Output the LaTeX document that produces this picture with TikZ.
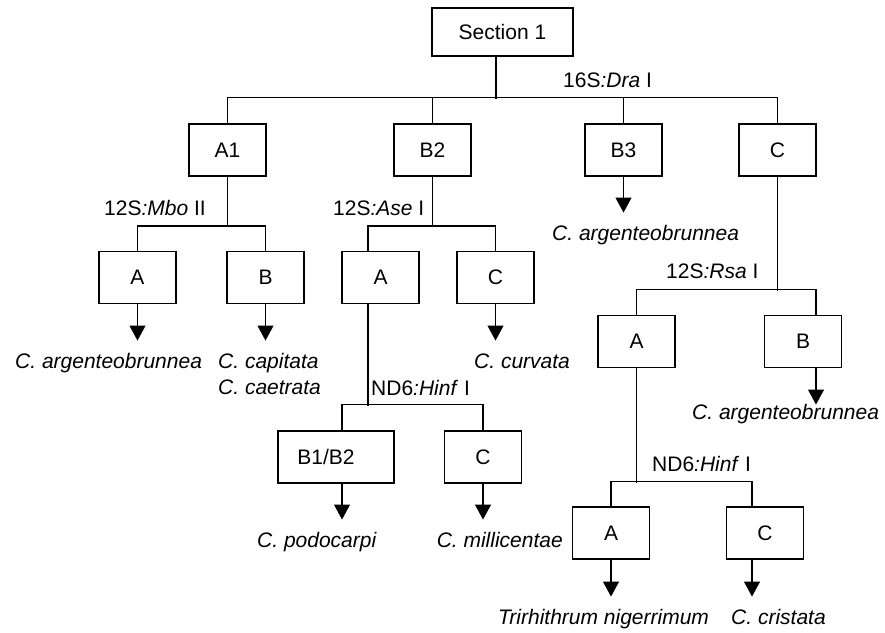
\documentclass[tikz,border=0pt]{standalone}
\usepackage{fontspec}
\setmainfont{Liberation Sans}
\usetikzlibrary{arrows.meta}
\begin{document}
\begin{tikzpicture}[x=1pt,y=-1pt,
  every node/.style={font=\fontsize{21}{26}\selectfont},
  box/.style={draw, line width=1.1pt, minimum width=77pt, minimum height=52pt, inner sep=0pt},
  conn/.style={line width=1.1pt},
  arr/.style={line width=1.1pt, -{Triangle[width=16pt,length=15pt]}},
  lab/.style={anchor=base west, inner sep=0pt},
  sp/.style={anchor=base west, inner sep=0pt, font=\fontsize{21}{26}\selectfont\itshape}]
\useasboundingbox (0,0) rectangle (885,632);
% boxes
\node[box, minimum width=141pt, minimum height=48pt] (sec) at (502.5,32) {Section 1};
\node[box] (A1) at (227.5,150) {A1};
\node[box] (B2) at (432.5,150) {B2};
\node[box] (B3) at (623.5,150) {B3};
\node[box] (C) at (777.5,150) {C};
\node[box] (A1a) at (137.5,277.5) {A};
\node[box] (A1b) at (265.5,277.5) {B};
\node[box] (B2a) at (380.5,277.5) {A};
\node[box] (B2c) at (495.5,277.5) {C};
\node[box, minimum width=116pt] (B12) at (336,457) {\hspace*{-20pt}B1/B2};
\node[box] (B2ac) at (483,457) {C};
\node[box] (Ca) at (636.5,341.5) {A};
\node[box] (Cb) at (803,341.5) {B};
\node[box] (CaA) at (611,533) {A};
\node[box] (CaC) at (765,533) {C};
% enzyme labels
\node[lab] (l16) at (563,87) {16S\textit{:Dra} I};
\node[lab] (l12a) at (104,215) {12S\textit{:Mbo} II};
\node[lab] (l12b) at (333,215) {12S\textit{:Ase} I};
\node[lab] (lnd1) at (371,395) {ND6\textit{:Hinf} I};
\node[lab] (l12c) at (666,278) {12S\textit{:Rsa} I};
\node[lab] (lnd2) at (652,471) {ND6\textit{:Hinf} I};
% species
\node[sp] (s1) at (15,368) {C. argenteobrunnea};
\node[sp] (s2) at (218,368) {C. capitata};
\node[sp] (s2b) at (218,394) {C. caetrata};
\node[sp] (s3) at (474,368) {C. curvata};
\node[sp] (s4) at (257,547) {C. podocarpi};
\node[sp, anchor=base east] (s5) at (563,547) {C. millicentae};
\node[sp] (s6) at (552,240) {C. argenteobrunnea};
\node[sp] (s7) at (692,419) {C. argenteobrunnea};
\node[sp] (s8) at (498,624) {Trirhithrum nigerrimum};
\node[sp] (s9) at (731,624) {C. cristata};
% tree connectors
\draw[conn] ([xshift=-6.5pt]sec.south) -- ++(0,42) coordinate (j0);
\draw[conn] (A1.north) -- ++(0,-26) -| (C.north);
\draw[conn] (B2.north) -- ++(0,-26);
\draw[conn] (B3.north) -- ++(0,-26);
\draw[conn] (A1.south) -- ++(0,50);
\draw[conn] (A1a.north) -- ++(0,-25) -| (A1b.north);
\draw[conn] (B2.south) -- ++(0,50);
\draw[conn] ([xshift=-12.5pt]B2a.north) -- ++(0,-25) -| (B2c.north);
\draw[conn] ([xshift=-12.5pt]B2a.south) -- ++(0,101.5);
\draw[conn] ([xshift=6pt]B12.north) -- ++(0,-26) -| (B2ac.north);
\draw[conn] (C.south) -- ++(0,114);
\draw[conn] (Ca.north) -- ++(0,-25.5) -| ([xshift=13pt]Cb.north);
\draw[conn] (Ca.south) -- ++(0,114.5);
\draw[conn] (CaA.north) -- ++(0,-25) -| ([xshift=-13pt]CaC.north);
% arrows
\draw[arr] (A1a.south) -- ++(0,36.5) coordinate (t1);
\draw[arr] (A1b.south) -- ++(0,36.5) coordinate (t2);
\draw[arr] (B2c.south) -- ++(0,36.5) coordinate (t3);
\draw[arr] (B3.south) -- ++(0,36) coordinate (t4);
\draw[arr] ([xshift=13pt]Cb.south) -- ++(0,36.5) coordinate (t5);
\draw[arr] ([xshift=6pt]B12.south) -- ++(0,36) coordinate (t6);
\draw[arr] (B2ac.south) -- ++(0,36) coordinate (t7);
\draw[arr] (CaA.south) -- ++(0,37) coordinate (t8);
\draw[arr] ([xshift=-13pt]CaC.south) -- ++(0,37) coordinate (t9);
\end{tikzpicture}
\end{document}
